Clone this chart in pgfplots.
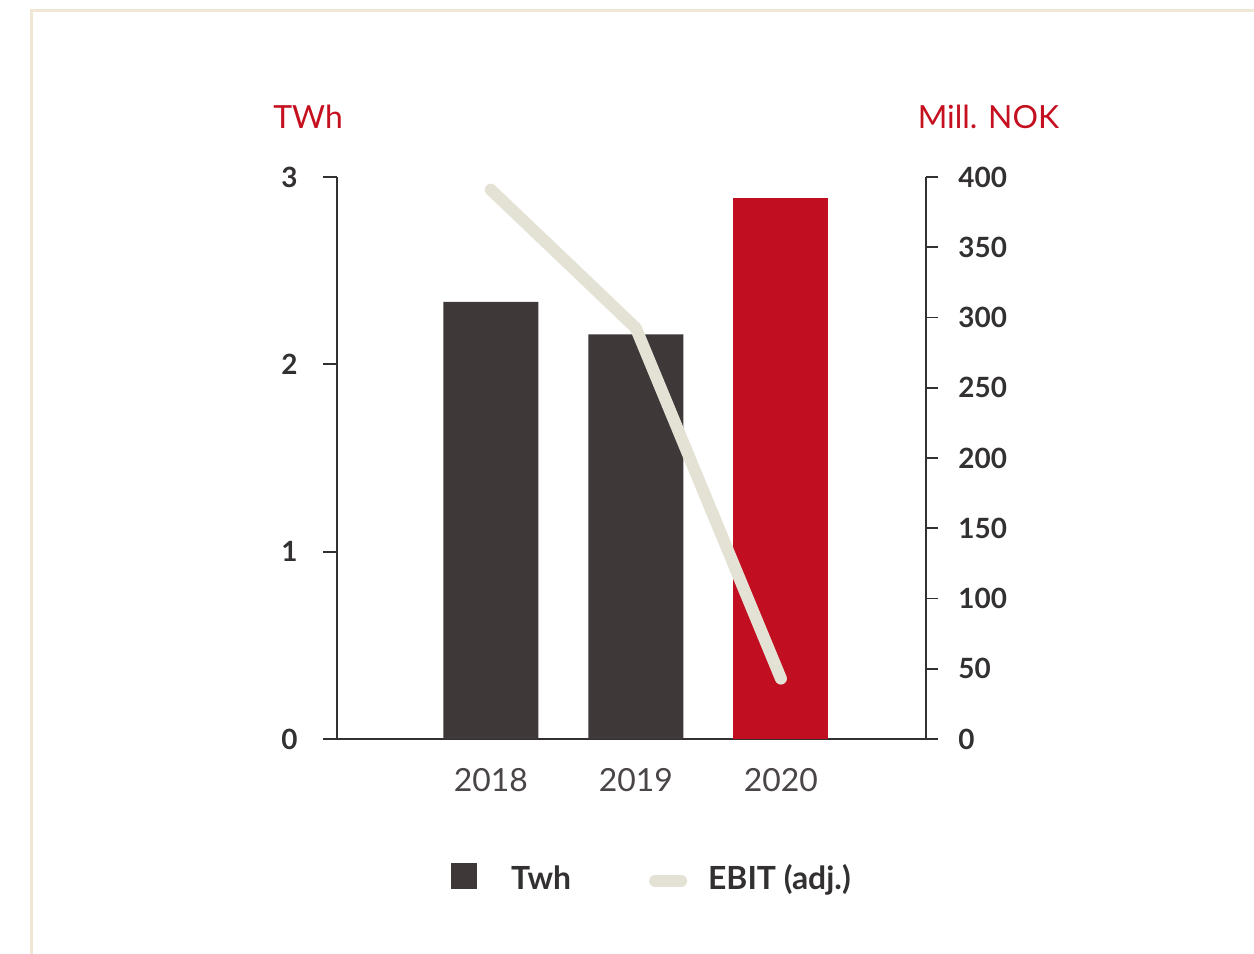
\documentclass[border=0pt]{standalone}
\usepackage{fontspec}
\setmainfont{Lato}
\usepackage{pgfplots}
\pgfplotsset{compat=1.18}
\definecolor{barDark}{HTML}{3E3839}
\definecolor{barRed}{HTML}{C20E21}
\definecolor{lineC}{HTML}{E3E2D5}
\definecolor{frameC}{HTML}{EFE7D3}
\definecolor{txt}{HTML}{333031}
\definecolor{yearC}{HTML}{4A4546}
\definecolor{lab}{HTML}{C4101F}
\begin{document}
\begin{tikzpicture}
\path[use as bounding box] (0,0) rectangle (627bp,-477bp);
\fill[white] (0,0) rectangle (627bp,-477bp);
\draw[frameC, line width=1.5bp] (15.5bp,-477bp) -- (15.5bp,-5bp) -- (627bp,-5bp);

\begin{axis}[
  at={(168.5bp,-369.5bp)}, anchor=south west,
  scale only axis, width=294.5bp, height=281bp,
  xmin=-1.06, xmax=3, ymin=0, ymax=3,
  axis x line*=bottom, axis y line*=left,
  axis line style={txt, line width=0.9bp},
  x axis line style={shorten <=-7bp, shorten >=-6bp},
  ytick={0,1,2,3}, xtick={0,1,2}, xticklabels={2018,2019,2020},
  tick align=outside, major tick length=7bp,
  xtick style={draw=none},
  ytick style={txt, line width=0.9bp},
  yticklabel style={font=\fontsize{14}{14}\selectfont\bfseries, text=txt, inner sep=0pt, anchor=east},
  yticklabel shift=12.5bp,
  xticklabel style={font=\fontsize{16}{16}\selectfont, text=yearC, inner sep=0pt, anchor=north},
  xticklabel shift=7.5bp,
  /pgf/number format/assume math mode=true,
  ybar, bar width=47.5bp,
]
\addplot[fill=barDark, draw=none, bar shift=0pt] coordinates {(0,2.333) (1,2.16)};
\addplot[fill=barRed, draw=none, bar shift=0pt] coordinates {(2,2.888)};
\end{axis}

\begin{axis}[
  at={(168.5bp,-369.5bp)}, anchor=south west,
  scale only axis, width=294.5bp, height=281bp,
  xmin=-1.06, xmax=3, ymin=0, ymax=400,
  axis x line=none, axis y line*=right,
  axis line style={txt, line width=0.9bp},
  ytick={0,50,...,400},
  tick align=outside, major tick length=6bp,
  ytick style={txt, line width=0.9bp},
  yticklabel style={font=\fontsize{14}{14}\selectfont\bfseries, text=txt, inner sep=0pt, anchor=west},
  yticklabel shift=10bp,
  /pgf/number format/assume math mode=true,
  legend columns=2,
  legend style={at={(0.533,-0.247)}, anchor=center, draw=none, fill=none,
    nodes={inner sep=0pt}, font=\fontsize{16}{16}\selectfont\bfseries, text=txt,
    /tikz/every even column/.append style={column sep=39bp}},
]
\addlegendimage{legend image code/.code={\fill[barDark, draw=none] (0bp,-5bp) rectangle (13bp,8bp); \path[draw=none, fill=none] (0bp,-6.5bp) rectangle (30bp,6.5bp);}}
\addlegendentry{Twh}
\addplot[lineC, line width=6bp, line cap=round, line join=round,
  legend image code/.code={\draw[lineC, line width=6bp, line cap=round] (3bp,-1bp) -- (16bp,-1bp); \path[draw=none, fill=none] (0bp,-6.5bp) rectangle (29.5bp,6.5bp);}]
  coordinates {(0,391) (1,292.5) (2,43)};
\addlegendentry{EBIT (adj.)}
\end{axis}

\node[text=lab, font=\fontsize{16}{16}\selectfont] at (154bp,-58.5bp) {TWh};
\node[text=lab, font=\fontsize{16}{16}\selectfont] at (494.25bp,-58.5bp) {Mill. NOK};
\end{tikzpicture}
\end{document}
